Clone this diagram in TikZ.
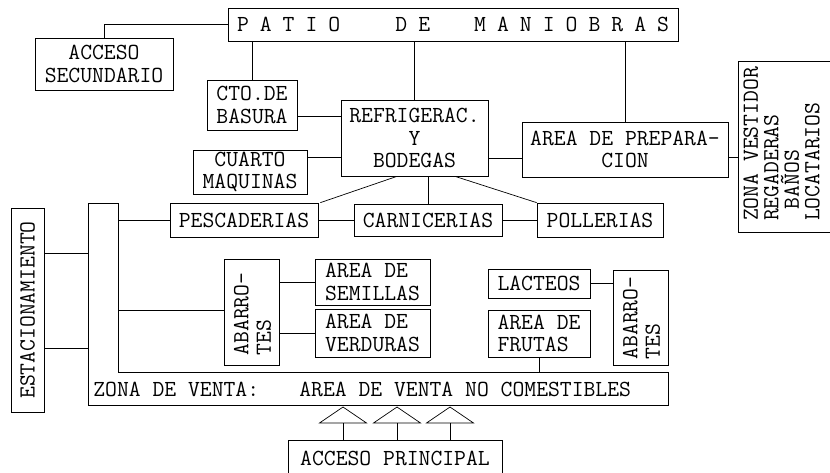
\documentclass[tikz,border=0pt]{standalone}
\newcommand\tw{\ttfamily\fontsize{23}{22.5}\selectfont}
\tikzset{
  bx/.style={draw, rectangle, inner sep=0pt, align=center, font=\tw},
  lbl/.style={inner sep=0pt, font=\tw},
}
\begin{document}
\begin{tikzpicture}[x=1pt,y=-1pt, line width=0.7pt]
\useasboundingbox (0,0) rectangle (830,473);
\clip (0,0) rectangle (830,473);
\fill[white] (0,0) rectangle (830,473);

% boxes
\node[bx, minimum width=450pt, minimum height=33pt] (patio) at (453,24.5)
  {\makebox[432pt]{P\hfill A\hfill T\hfill I\hfill O\hfill\hfill\hfill\hfill\hfill D\hfill E\hfill\hfill\hfill\hfill M\hfill A\hfill N\hfill I\hfill O\hfill B\hfill R\hfill A\hfill S}};
\node[bx, minimum width=138pt, minimum height=52pt] (accsec) at (104,64) {ACCESO\\SECUNDARIO};
\node[bx, minimum width=90pt, minimum height=50pt] (basura) at (252,105) {CTO.DE\\BASURA};
\node[bx, minimum width=147pt, minimum height=76pt] (refrig) at (414.5,138) {REFRIGERAC.\\Y\\BODEGAS};
\node[bx, minimum width=114pt, minimum height=44pt] (cuarto) at (250,172) {CUARTO\\MAQUINAS};
\node[bx, minimum width=206pt, minimum height=55pt] (prep) at (625,149.5) {AREA DE PREPARA-\\CION};
\node[bx, minimum width=97pt, minimum height=171pt] (vest) at (786.5,146.5) {};
\node[inner sep=0pt, font=\ttfamily\fontsize{23}{20.5}\selectfont, rotate=90, align=left] (vestt) at (781.5,144) {ZONA VESTIDOR\\REGADERAS\\~BAÑOS\\LOCATARIOS};
\node[bx, minimum width=148pt, minimum height=34pt] (pesc) at (244,220) {PESCADERIAS};
\node[bx, minimum width=148pt, minimum height=32pt] (carn) at (428,220) {CARNICERIAS};
\node[bx, minimum width=126pt, minimum height=34pt] (poll) at (600,220) {POLLERIAS};
\node[bx, minimum width=33pt, minimum height=204pt] (estac) at (27.5,310) {};
\node[lbl, rotate=90] (estact) at (estac) {ESTACIONAMIENTO};
\node[bx, minimum width=55pt, minimum height=106pt] (abar1) at (251.5,312) {};
\node[lbl, rotate=90, align=left] (abar1t) at (252.5,314) {ABARRO-\\TES};
\node[bx, minimum width=115pt, minimum height=46pt, align=left] (semi) at (372.5,282) {AREA DE\\SEMILLAS};
\node[bx, minimum width=115pt, minimum height=48pt, align=left] (verd) at (372.5,333) {AREA DE\\VERDURAS};
\node[bx, minimum width=102pt, minimum height=29pt] (lact) at (539,283.5) {LACTEOS};
\node[bx, minimum width=102pt, minimum height=47pt, align=left] (frut) at (539,333.5) {AREA DE\\FRUTAS};
\node[bx, minimum width=55pt, minimum height=95pt] (abar2) at (640.5,317.5) {};
\node[lbl, rotate=90, align=left] (abar2t) at (641.5,318) {ABARRO-\\TES};
\node[bx, minimum width=214pt, minimum height=36pt] (accpri) at (395,458) {ACCESO PRINCIPAL};

% zona de venta (L shape)
\coordinate (zA) at (88,203);
\coordinate (zB) at (118,203);
\coordinate (zC) at (118,372);
\coordinate (zD) at (668,372);
\coordinate (zE) at (668,405);
\coordinate (zF) at (88,405);
\draw (zA) -- (zB) -- (zC) -- (zD) -- (zE) -- (zF) -- cycle;
\node[lbl, anchor=west] (zona1) at (93,389) {ZONA DE VENTA:};
\node[lbl, anchor=west] (zona2) at (299,389) {AREA DE VENTA NO COMESTIBLES};

% connectors
\draw (accsec.north) |- (patio.west);
\draw (basura.north |- patio.south) -- (basura.north);
\draw (refrig.north |- patio.south) -- (refrig.north);
\draw (prep.north |- patio.south) -- (prep.north);
\draw (basura.east |- 0,116) -- (refrig.west |- 0,116);
\draw (cuarto.east |- 0,157) -- (refrig.west |- 0,157);
\draw (refrig.east |- 0,158) -- (prep.west |- 0,158);
\draw (prep.east |- 0,157) -- (vest.west |- 0,157);
\draw ([xshift=-17.5pt]refrig.south) -- ([xshift=2pt]pesc.north east);
\draw (carn.north |- refrig.south) -- (carn.north);
\draw ([xshift=40.5pt]refrig.south) -- (poll.north west);
\draw (pesc.east) -- (carn.west);
\draw (carn.east) -- (poll.west);
\draw (zB |- pesc.west) -- (pesc.west);
\draw (zB |- 0,310) -- (abar1.west |- 0,310);
\draw (estac.east |- 0,253) -- (zA |- 0,253);
\draw (estac.east |- 0,348) -- (zA |- 0,348);
\draw (abar1.east |- semi.west) -- (semi.west);
\draw (abar1.east |- verd.west) -- (verd.west);
\draw (lact.east) -- (abar2.west |- lact.east);
\draw (frut.south) -- (frut.south |- zD);

% entrances
\foreach \x/\n in {343/t1, 397/t2, 450/t3} {
  \coordinate (\n) at (\x,423);
  \draw (\x-23.5,423) -- (\x,407) -- (\x+23.5,423) -- cycle;
  \draw (\n) -- (\n |- accpri.north);
}
\end{tikzpicture}
\end{document}
